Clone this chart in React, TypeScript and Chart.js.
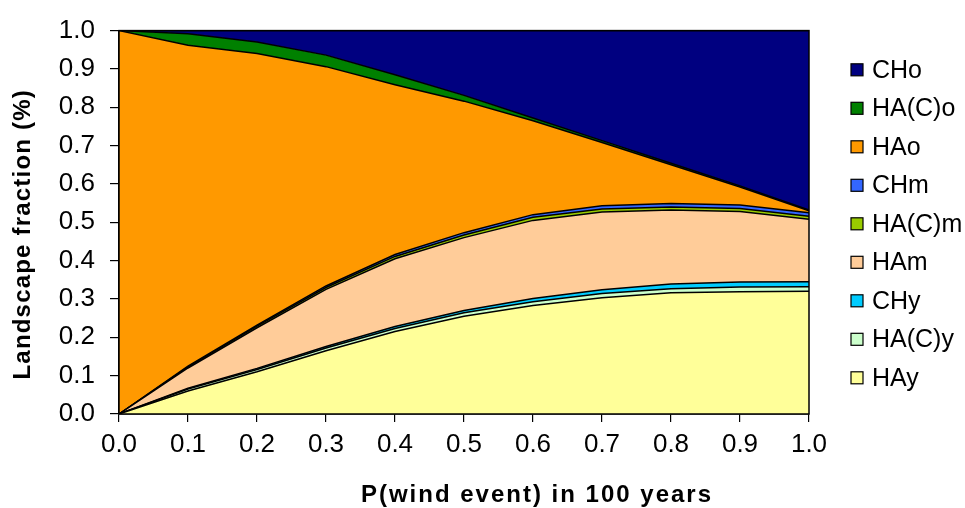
import React, { useEffect, useRef } from "react";
import { Chart, registerables } from "chart.js";

Chart.register(...registerables);

// X categories: P(wind event) in 100 years
const xLabels = ["0.0", "0.1", "0.2", "0.3", "0.4", "0.5", "0.6", "0.7", "0.8", "0.9", "1.0"];

// Series values (landscape fractions), stacked bottom -> top
const HAy = [0, 0.06, 0.11, 0.165, 0.215, 0.255, 0.283, 0.303, 0.316, 0.319, 0.32];
const HACy = [0, 0.005, 0.006, 0.007, 0.008, 0.009, 0.01, 0.011, 0.011, 0.012, 0.012];
const CHy = [0, 0.002, 0.003, 0.004, 0.005, 0.006, 0.008, 0.01, 0.012, 0.013, 0.013];
const HAm = [0, 0.053, 0.106, 0.149, 0.177, 0.19, 0.204, 0.203, 0.193, 0.184, 0.163];
const HACm = [0, 0.003, 0.004, 0.005, 0.006, 0.007, 0.008, 0.008, 0.008, 0.008, 0.008];
const CHm = [0, 0.002, 0.003, 0.004, 0.005, 0.006, 0.007, 0.008, 0.009, 0.009, 0.009];
const HAo = [1.0, 0.837, 0.708, 0.572, 0.443, 0.343, 0.245, 0.165, 0.101, 0.047, 0.005];
const HACo = [0, 0.03, 0.03, 0.03, 0.026, 0.015, 0.007, 0.005, 0.004, 0.003, 0.002];
const CHo = [0, 0.008, 0.03, 0.064, 0.115, 0.169, 0.228, 0.287, 0.346, 0.405, 0.468];

const seriesNames = ["HAy", "HA(C)y", "CHy", "HAm", "HA(C)m", "CHm", "HAo", "HA(C)o", "CHo"];
const seriesValues = [HAy, HACy, CHy, HAm, HACm, CHm, HAo, HACo, CHo];
const seriesColors = ["#FFFF99", "#CCFFCC", "#00CCFF", "#FFCC99", "#99CC00", "#3366FF", "#FF9900", "#008000", "#000080"];

const yTickMin = 0;
const yTickMax = 1;
const yTickStep = 0.1;

const xTitle = "P(wind event) in 100 years";
const yTitle = "Landscape fraction (%)";

const FONT = '"Liberation Sans", Arial, sans-serif';

const frameLegendTitles = {
  id: "frameLegendTitles",
  afterDraw(chart: any) {
    const { ctx, chartArea } = chart;
    ctx.save();
    ctx.strokeStyle = "#000";
    ctx.lineWidth = 1.5;
    ctx.strokeRect(chartArea.left, chartArea.top, chartArea.right - chartArea.left, chartArea.bottom - chartArea.top);

    // legend
    const ds = chart.data.datasets;
    const spacing = 38.5;
    const n = ds.length;
    const centerY = (chartArea.top + chartArea.bottom) / 2 + 1.5;
    const startY = centerY - ((n - 1) * spacing) / 2;
    const boxX = chartArea.right + 42;
    const textX = chartArea.right + 63;
    ctx.font = `25px ${FONT}`;
    ctx.textBaseline = "middle";
    ctx.textAlign = "left";
    for (let k = 0; k < n; k++) {
      const d = ds[n - 1 - k];
      const y = startY + k * spacing;
      ctx.fillStyle = d.backgroundColor;
      ctx.fillRect(boxX, y - 6, 12, 12);
      ctx.lineWidth = 1.2;
      ctx.strokeStyle = "#000";
      ctx.strokeRect(boxX, y - 6, 12, 12);
      ctx.fillStyle = "#000";
      ctx.fillText(d.label, textX, y + 1);
    }

    // axis titles
    ctx.fillStyle = "#000";
    ctx.font = `bold 24px ${FONT}`;
    ctx.textAlign = "center";
    ctx.textBaseline = "middle";
    (ctx as any).letterSpacing = "2px";
    ctx.fillText(xTitle, chartArea.left + 418, chartArea.bottom + 81);
    (ctx as any).letterSpacing = "1.2px";
    ctx.translate(chartArea.left - 96, (chartArea.top + chartArea.bottom) / 2 + 12);
    ctx.rotate(-Math.PI / 2);
    ctx.fillText(yTitle, 0, 0);
    ctx.restore();
  },
};

export default function App() {
  const ref = useRef<HTMLCanvasElement | null>(null);

  useEffect(() => {
    if (!ref.current) return;
    const datasets = seriesNames.map((name, i) => ({
      label: name,
      data: seriesValues[i],
      backgroundColor: seriesColors[i],
      borderColor: "#000",
      borderWidth: 1.5,
      pointRadius: 0,
      tension: 0,
      fill: i === 0 ? "origin" : "-1",
    }));

    const chart = new Chart(ref.current, {
      type: "line",
      data: { labels: xLabels, datasets },
      options: {
        responsive: false,
        animation: false,
        devicePixelRatio: 1,
        layout: { padding: { top: 27, right: 156, bottom: 0, left: 0 } },
        plugins: {
          legend: { display: false },
          tooltip: { enabled: false },
        },
        scales: {
          x: {
            type: "category",
            offset: false,
            grid: { display: true, drawOnChartArea: false, drawTicks: true, tickLength: 8, color: "#000", lineWidth: 1.2 },
            border: { display: true, color: "#000", width: 1.5 },
            ticks: { color: "#000", font: { family: FONT, size: 26 }, padding: 7, maxRotation: 0, autoSkip: false },
            title: { display: false },
            afterFit: (s: any) => {
              s.height = 94;
            },
          },
          y: {
            type: "linear",
            stacked: true,
            min: yTickMin,
            max: yTickMax,
            grid: { display: true, drawOnChartArea: false, drawTicks: true, tickLength: 9, color: "#000", lineWidth: 1.2 },
            border: { display: true, color: "#000", width: 1.5 },
            ticks: {
              stepSize: yTickStep,
              color: "#000",
              font: { family: FONT, size: 26 },
              padding: 15,
              callback: (v: any) => Number(v).toFixed(1),
            },
            title: { display: false },
            afterFit: (s: any) => {
              s.width = 119;
            },
          },
        },
      } as any,
      plugins: [frameLegendTitles],
    });
    return () => chart.destroy();
  }, []);

  return (
    <div style={{ position: "absolute", left: 0, top: 0, width: 965, height: 508, background: "#fff" }}>
      <canvas ref={ref} width={965} height={508} style={{ width: 965, height: 508 }} />
    </div>
  );
}
